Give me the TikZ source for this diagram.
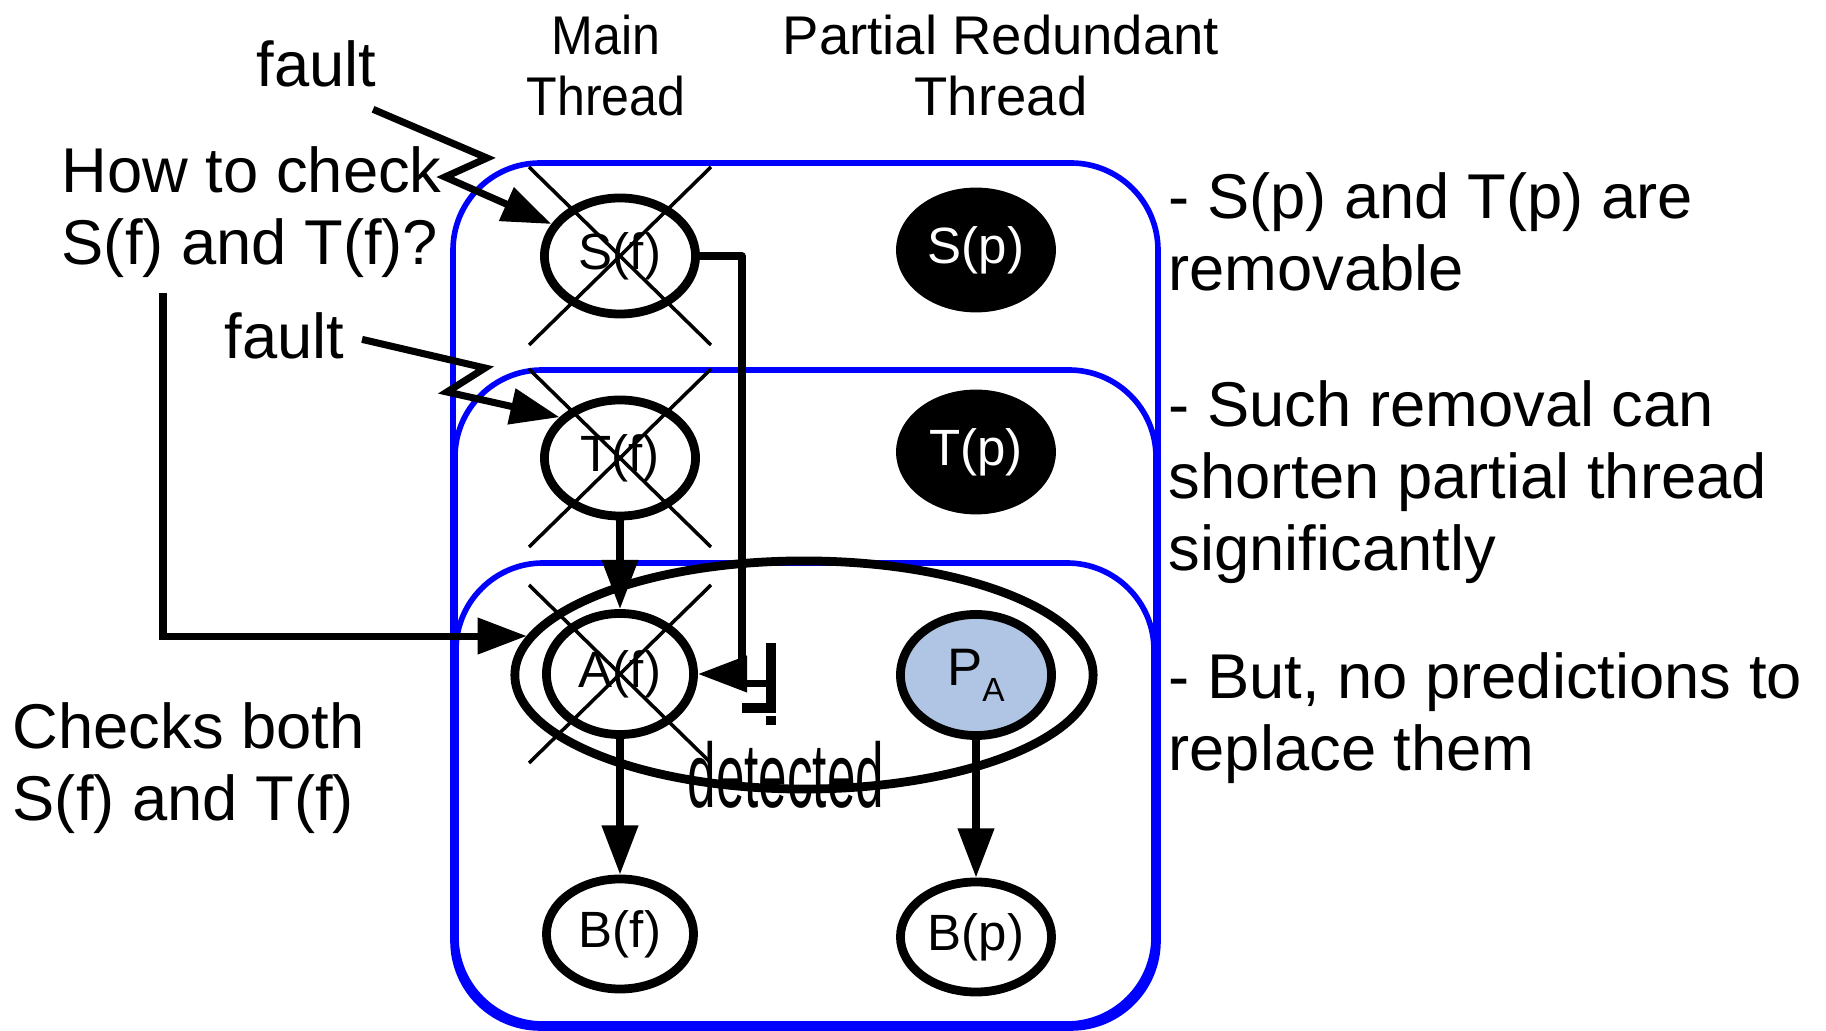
\documentclass[tikz,border=0pt]{standalone}
\usepackage{fontspec}
\setmainfont{Liberation Sans}
\usetikzlibrary{arrows.meta,positioning,shapes.geometric}
\definecolor{paleblue}{RGB}{176,196,228}
\begin{document}
\begin{tikzpicture}[x=0.01cm,y=-0.01cm,
  state/.style={ellipse,draw,line width=2.5pt,inner sep=0pt,
    minimum width=1.51cm,minimum height=1.16cm,font=\fontsize{14.5}{16}\selectfont},
  removed/.style={state,fill=black,text=white},
  crossline/.style={line width=1pt},
  box/.style={draw=blue,line width=1.6pt,rounded corners=0.87cm},
  flow/.style={line width=2pt,-{Triangle[length=14pt,width=10pt]}},
  note/.style={font=\fontsize{18}{20.6}\selectfont,align=left,inner sep=0pt,anchor=base west},
  head/.style={font=\fontsize{15.5}{17.5}\selectfont,align=center,inner sep=0pt,anchor=base}]
\useasboundingbox (0,0) rectangle (1826,1031);
% thread boxes
\draw[box] (453,163) rectangle (1158,1028);
\draw[box] (455,370) rectangle (1156,1026);
\draw[box] (456,563) rectangle (1154,1024);
% column heads
\node[head] (mainhead) at (606,116) {\scalebox{0.92}[1]{Main}\\\scalebox{0.92}[1]{Thread}};
\node[head] (parthead) at (1001,116) {Partial Redundant\\Thread};
% check region
\node[ellipse,draw,line width=2.5pt,minimum width=5.78cm,minimum height=2.28cm] (check) at (804,675) {};
% main thread
\node[state] (sf) at (620,256) {S(f)};
\node[state] (tf) at (620,458) {T(f)};
\node[state,minimum width=1.47cm,minimum height=1.21cm] (af) at (620,674) {A(f)};
\node[state,minimum width=1.47cm,minimum height=1.1cm] (bf) at (620,934) {B(f)};
% partial thread
\node[removed] (sp) at (976,250) {S(p)};
\node[removed] (tp) at (976,452) {T(p)};
\node[state,fill=paleblue,minimum height=1.21cm] (pa) at (976,675)
  {\fontsize{15}{16}\selectfont P\raisebox{-0.3em}{\fontsize{9.5}{10}\selectfont A}};
\node[state,minimum height=1.1cm] (bp) at (976,937) {B(p)};
% removed instructions
\foreach \n in {sf,tf,af}
  \draw[crossline] ([shift={(-91,-89)}]\n.center) -- ([shift={(91,89)}]\n.center)
    ([shift={(91,-89)}]\n.center) -- ([shift={(-91,89)}]\n.center);
% dependences
\draw[flow] (tf) -- (af);
\draw[flow] (af) -- (bf);
\draw[flow] (pa) -- (bp);
\coordinate (bend) at (742,256);
\draw[flow,line join=round] (sf.east) -- (bend) |- (af.east);
\fill (766,643) rectangle (776,703);
\fill (742,680) rectangle (776,687);
\fill (742,703) rectangle (776,713);
\fill (766,716) rectangle (776,725);
\node[anchor=base west,inner sep=0pt,font=\fontsize{26}{28}\selectfont] (det) at (687,808)
  {\scalebox{0.56}[1]{detected}};
% faults
\node[note] (fault1) at (256,87) {fault};
\node[note] (fault2) at (224,359) {fault};
\coordinate (za) at (487,158);
\coordinate (zb) at (445,177);
\coordinate (zc) at (485,368);
\coordinate (zd) at (447,392);
\draw[flow,line join=miter] ([shift={(-4,21)}]fault1.south east) -- (za) -- (zb) -- (sf.155);
\draw[flow,line join=miter] ([shift={(17,3)}]fault2.east) -- (zc) -- (zd) -- (tf.146);
% questions
\node[note] (quest) at (61,265) {How to check\\S(f) and T(f)?};
\node[note] (answer) at (12,821) {Checks both\\S(f) and T(f)};
\coordinate (qstart) at (163,293);
\draw[flow] (qstart) |- (check.172);
% remarks
\node[note] (rem1) at (1168,291) {- S(p) and T(p) are\\removable};
\node[note] (rem2) at (1168,571) {- Such removal can\\shorten partial thread\\significantly};
\node[note] (rem3) at (1168,771) {- But, no predictions to\\replace them};
\end{tikzpicture}
\end{document}
